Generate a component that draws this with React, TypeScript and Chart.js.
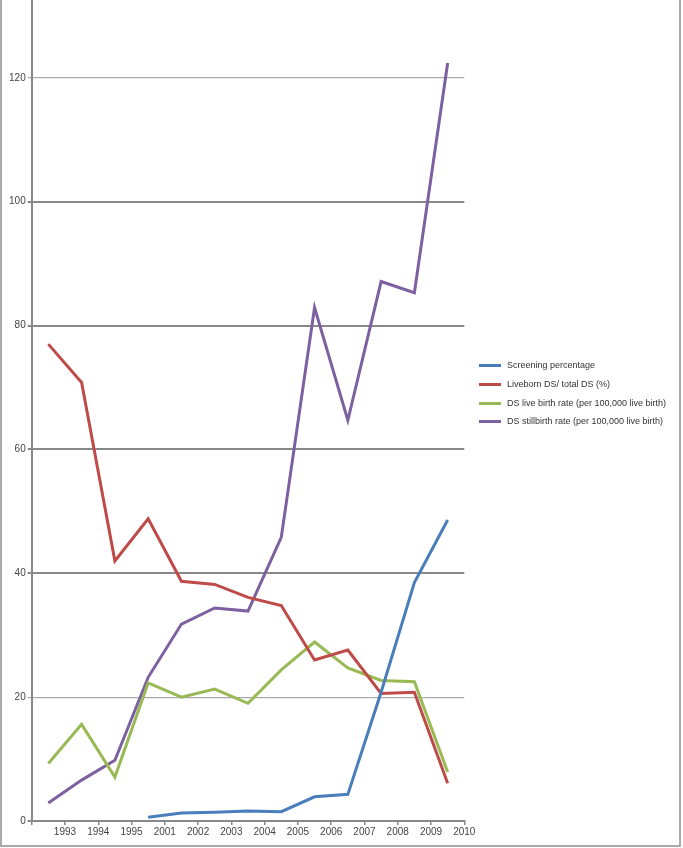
import React, { useEffect, useRef } from "react";
import { Chart, registerables } from "chart.js";

Chart.register(...registerables);

const xLabels = ["1993", "1994", "1995", "2001", "2002", "2003", "2004", "2005", "2006", "2007", "2008", "2009", "2010"];

const seriesNames = [
  "Screening percentage",
  "Liveborn DS/ total DS (%)",
  "DS live birth rate (per 100,000 live birth)",
  "DS stillbirth rate (per 100,000 live birth)",
];
const seriesColors = ["#4a7ebb", "#be4b48", "#98b954", "#7d60a0"];

const screening = [null, null, null, 0.6, 1.3, 1.4, 1.6, 1.5, 3.9, 4.3, 20.8, 38.5, 48.6];
const liveborn = [77.0, 70.8, 42.0, 48.8, 38.7, 38.2, 36.1, 34.8, 26.0, 27.6, 20.6, 20.8, 6.1];
const liveBirthRate = [9.3, 15.6, 7.1, 22.3, 20.0, 21.3, 19.0, 24.4, 28.9, 24.7, 22.7, 22.5, 7.9];
const stillbirthRate = [2.9, 6.6, 9.8, 23.2, 31.8, 34.4, 33.9, 45.8, 82.9, 64.7, 87.1, 85.3, 122.4];

const yTicks = [0, 20, 40, 60, 80, 100, 120];

const allSeries = [screening, liveborn, liveBirthRate, stillbirthRate];

export default function App() {
  const canvasRef = useRef<HTMLCanvasElement | null>(null);

  useEffect(() => {
    const canvas = canvasRef.current;
    if (!canvas) return;
    const datasets = allSeries.map((vals, si) => ({
      label: seriesNames[si],
      data: vals.map((v, i) => ({ x: i + 0.5, y: v })),
      borderColor: seriesColors[si],
      backgroundColor: seriesColors[si],
      borderWidth: 3,
      pointRadius: 0,
      tension: 0,
      spanGaps: false,
      fill: false,
    }));
    const font = { family: "'Liberation Sans', Arial, sans-serif", size: 10 };
    const chart = new Chart(canvas, {
      type: "line",
      data: { datasets: datasets as any },
      options: {
        animation: false,
        responsive: false,
        devicePixelRatio: 1,
        layout: { padding: { left: 0, top: 0, right: 218.7, bottom: 0 } },
        plugins: { legend: { display: false }, tooltip: { enabled: false } },
        scales: {
          x: {
            type: "linear",
            min: 0,
            max: xLabels.length,
            afterFit: (s: any) => {
              s.height = 27;
            },
            afterBuildTicks: (s: any) => {
              s.ticks = xLabels.map((_, i) => ({ value: i + 1 })).concat([{ value: 0 }]);
            },
            ticks: {
              stepSize: 1,
              autoSkip: false,
              maxRotation: 0,
              padding: 1,
              color: "#444",
              font,
              callback: (v: any) => (v >= 1 ? xLabels[Math.round(v) - 1] : ""),
            },
            grid: { drawOnChartArea: false, drawTicks: true, tickLength: 4, color: "#888", lineWidth: 1.5 },
            border: { color: "#888", width: 2 },
          },
          y: {
            type: "linear",
            min: 0,
            max: 132.4,
            afterFit: (s: any) => {
              s.width = 31.7;
            },
            afterBuildTicks: (s: any) => {
              s.ticks = yTicks.map((v) => ({ value: v }));
            },
            ticks: { stepSize: 20, padding: 2, color: "#444", font },
            grid: {
              drawTicks: true,
              tickLength: 4,
              color: (c: any) => (c.tick && (c.tick.value === 20 || c.tick.value === 120) ? "#aaa" : "#888"),
              lineWidth: (c: any) => (c.tick && (c.tick.value === 20 || c.tick.value === 120) ? 1.2 : 2),
            },
            border: { color: "#888", width: 2 },
          },
        },
      },
    });
    return () => chart.destroy();
  }, []);

  const legendTop = [365, 384, 403, 421];

  return (
    <div style={{ position: "absolute", left: 0, top: 0, width: 683, height: 848, overflow: "hidden", background: "#fff" }}>
      <div
        style={{
          position: "absolute",
          left: 0,
          top: -10,
          width: 681,
          height: 857,
          boxSizing: "border-box",
          border: "2px solid #aaa",
        }}
      />
      <canvas ref={canvasRef} width={683} height={855} style={{ position: "absolute", left: 0, top: -7, width: 683, height: 855 }} />
      {seriesNames.map((name, i) => (
        <div key={name}>
          <div
            style={{
              position: "absolute",
              left: 479,
              top: legendTop[i] - 1.5,
              width: 22,
              height: 3,
              background: seriesColors[i],
            }}
          />
          <div
            style={{
              position: "absolute",
              left: 507,
              top: legendTop[i] - 6,
              height: 12,
              lineHeight: "12px",
              fontFamily: "'Liberation Sans', Arial, sans-serif",
              fontSize: 9,
              color: "#333",
              whiteSpace: "nowrap",
            }}
          >
            {name}
          </div>
        </div>
      ))}
    </div>
  );
}
